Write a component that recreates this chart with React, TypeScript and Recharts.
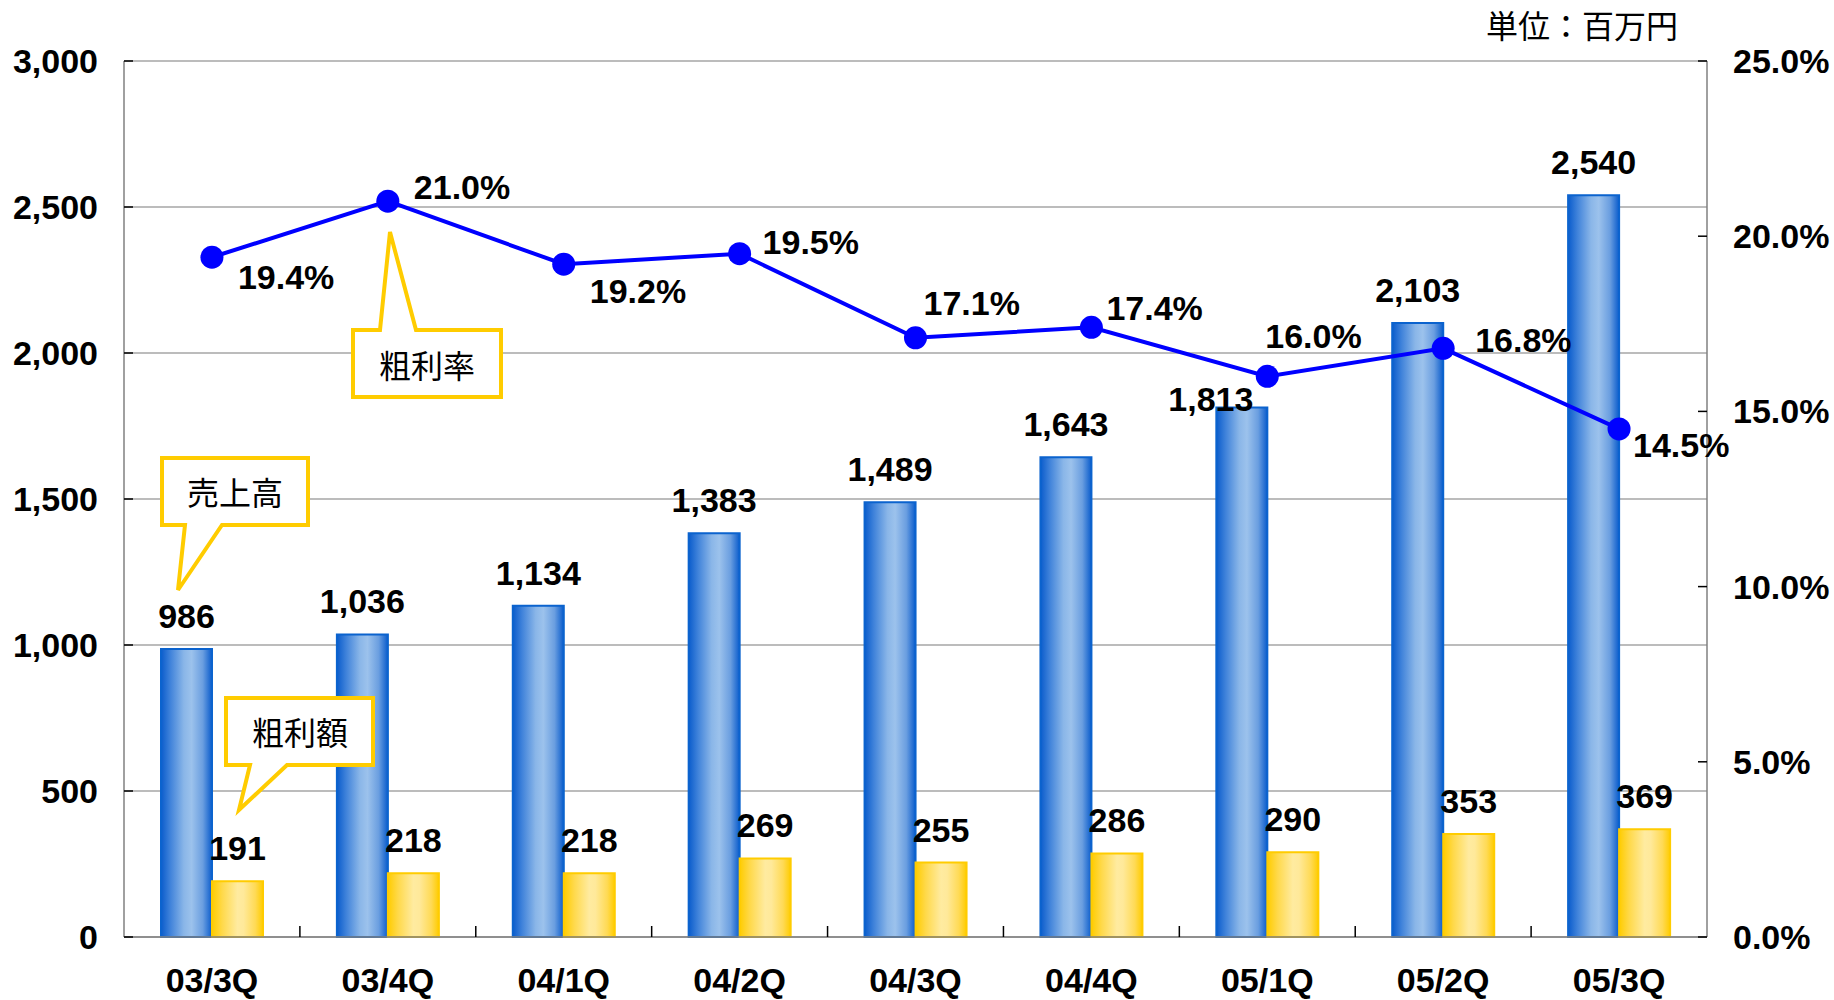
import React from 'react';
import {
  ComposedChart, Bar, Line, XAxis, YAxis, CartesianGrid, LabelList,
} from 'recharts';

const quarters = ['03/3Q', '03/4Q', '04/1Q', '04/2Q', '04/3Q', '04/4Q', '05/1Q', '05/2Q', '05/3Q'];
const sales = [986, 1036, 1134, 1383, 1489, 1643, 1813, 2103, 2540];
const grossProfit = [191, 218, 218, 269, 255, 286, 290, 353, 369];
const grossMargin = [19.4, 21.0, 19.2, 19.5, 17.1, 17.4, 16.0, 16.8, 14.5];

const leftTicks = [0, 500, 1000, 1500, 2000, 2500, 3000];
const rightTicks = [0, 5, 10, 15, 20, 25];

// label nudges (px) – not data
const rateLabelOffsets: Array<[number, number]> = [
  [26, 32], [26, -2], [26, 39], [23, 0], [8, -23], [15, -7], [-2, -28], [32, 4], [14, 28],
];
const salesLabelOffsets: Array<[number, number]> = [
  [0, 0], [0, 0], [0, 0], [0, 0], [0, 0], [0, 0], [-31, 24], [0, 0], [0, 0],
];

const W = 1834;
const H = 1000;
const LEFT_W = 124;
const RIGHT_W = 127;
const TOP = 61;
const BOTTOM = 63;
const HALF_BAND = (W - LEFT_W - RIGHT_W) / quarters.length / 2;

const NUM_FONT = "'Liberation Sans', Arial, sans-serif";
const JP_FONT = "'Noto Sans CJK JP', 'Noto Sans', sans-serif";

const data = quarters.map((q, i) => ({
  q,
  sales: sales[i],
  gross: grossProfit[i],
  rate: grossMargin[i],
}));

const LeftTick = (props: any) => {
  const { x, y, payload } = props;
  return (
    <g>
      <line x1={LEFT_W} x2={LEFT_W + 9} y1={y} y2={y} stroke="#000" strokeWidth={1.5} />
      <text x={x} y={y + 12} textAnchor="end" fontFamily={NUM_FONT} fontWeight="bold" fontSize={34} fill="#000">
        {Number(payload.value).toLocaleString('en-US')}
      </text>
    </g>
  );
};

const RightTick = (props: any) => {
  const { x, y, payload } = props;
  const axisX = W - RIGHT_W;
  return (
    <g>
      <line x1={axisX - 9} x2={axisX} y1={y} y2={y} stroke="#000" strokeWidth={1.5} />
      <text x={x} y={y + 12} textAnchor="start" fontFamily={NUM_FONT} fontWeight="bold" fontSize={34} fill="#000">
        {`${Number(payload.value).toFixed(1)}%`}
      </text>
    </g>
  );
};

const BottomTick = (props: any) => {
  const { x, y, payload, index } = props;
  return (
    <g>
      {index < quarters.length - 1 && (
        <line x1={x + HALF_BAND} x2={x + HALF_BAND} y1={y} y2={y - 11} stroke="#000" strokeWidth={1.5} />
      )}
      <text x={x} y={y + 55} textAnchor="middle" fontFamily={NUM_FONT} fontWeight="bold" fontSize={34} fill="#000">
        {payload.value}
      </text>
    </g>
  );
};

const barLabel = (offsets?: Array<[number, number]>) => (props: any) => {
  const { x, y, width, value, index } = props;
  const [dx, dy] = offsets ? offsets[index] : [0, 0];
  return (
    <text
      x={Number(x) + Number(width) / 2 + dx}
      y={Number(y) - 21 + dy}
      textAnchor="middle"
      fontFamily={NUM_FONT}
      fontWeight="bold"
      fontSize={34}
      fill="#000"
    >
      {Number(value).toLocaleString('en-US')}
    </text>
  );
};

const rateLabel = (props: any) => {
  const { x, y, value, index } = props;
  const [dx, dy] = rateLabelOffsets[index];
  return (
    <text x={Number(x) + dx} y={Number(y) + dy} textAnchor="start" fontFamily={NUM_FONT} fontWeight="bold" fontSize={34} fill="#000">
      {`${Number(value).toFixed(1)}%`}
    </text>
  );
};

function Callouts() {
  const boxStyle = { fill: '#fff', stroke: '#FFCC00', strokeWidth: 4, strokeLinejoin: 'miter' as const };
  const txt = (x: number, y: number, s: string) => (
    <text x={x} y={y} textAnchor="middle" dominantBaseline="central" fontFamily={JP_FONT} fontSize={32} fill="#000">
      {s}
    </text>
  );
  return (
    <svg width={W} height={H} style={{ position: 'absolute', left: 0, top: 0, pointerEvents: 'none' }}>
      <path d="M162,458 H308 V525 H222 L178,590 L185,525 H162 Z" {...boxStyle} />
      {txt(235, 491, '売上高')}
      <path d="M226,698 H373 V765 H287 L239,810 L250,765 H226 Z" {...boxStyle} />
      {txt(300, 731, '粗利額')}
      <path d="M353,330 H380 L390,232 L416,330 H501 V397 H353 Z" {...boxStyle} />
      {txt(427, 364, '粗利率')}
      <text x={1678} y={38} textAnchor="end" fontFamily={JP_FONT} fontSize={32} fill="#000">
        単位：百万円
      </text>
    </svg>
  );
}

export default function App() {
  return (
    <div style={{ position: 'absolute', left: 0, top: 0, width: W, height: H, background: '#fff' }}>
      <ComposedChart
        width={W}
        height={H}
        data={data}
        margin={{ top: TOP, right: 0, bottom: 0, left: 0 }}
        barGap={0}
      >
        <defs>
          <linearGradient id="gBlue" x1="0" y1="0" x2="1" y2="0">
            <stop offset="0%" stopColor="#0A5CCC" />
            <stop offset="18%" stopColor="#3F82DA" />
            <stop offset="45%" stopColor="#8AB6E8" />
            <stop offset="60%" stopColor="#9CC2EC" />
            <stop offset="82%" stopColor="#6A9EE0" />
            <stop offset="100%" stopColor="#0A5CCC" />
          </linearGradient>
          <linearGradient id="gYellow" x1="0" y1="0" x2="1" y2="0">
            <stop offset="0%" stopColor="#FFCC00" />
            <stop offset="20%" stopColor="#FFD94A" />
            <stop offset="50%" stopColor="#FFEBA0" />
            <stop offset="62%" stopColor="#FFE99A" />
            <stop offset="85%" stopColor="#FFDA55" />
            <stop offset="100%" stopColor="#FFCC00" />
          </linearGradient>
        </defs>
        <CartesianGrid yAxisId="left" vertical={false} stroke="#A6A6A6" strokeWidth={1.5} />
        <XAxis
          dataKey="q"
          height={BOTTOM}
          axisLine={{ stroke: '#808080', strokeWidth: 1.5 }}
          tickLine={false}
          tickSize={0}
          tickMargin={0}
          tick={<BottomTick />}
          interval={0}
        />
        <YAxis
          yAxisId="left"
          width={LEFT_W}
          domain={[0, 3000]}
          ticks={leftTicks}
          axisLine={{ stroke: '#808080', strokeWidth: 1.5 }}
          tickLine={false}
          tickSize={0}
          tickMargin={26}
          tick={<LeftTick />}
          interval={0}
        />
        <YAxis
          yAxisId="right"
          orientation="right"
          width={RIGHT_W}
          domain={[0, 25]}
          ticks={rightTicks}
          axisLine={{ stroke: '#808080', strokeWidth: 1.5 }}
          tickLine={false}
          tickSize={0}
          tickMargin={26}
          tick={<RightTick />}
          interval={0}
        />
        <Bar yAxisId="left" dataKey="sales" barSize={51} fill="url(#gBlue)" stroke="#0B63CE" strokeWidth={2} isAnimationActive={false}>
          <LabelList dataKey="sales" content={barLabel(salesLabelOffsets)} />
        </Bar>
        <Bar yAxisId="left" dataKey="gross" barSize={51} fill="url(#gYellow)" stroke="#FFCC00" strokeWidth={2} isAnimationActive={false}>
          <LabelList dataKey="gross" content={barLabel()} />
        </Bar>
        <Line
          yAxisId="right"
          dataKey="rate"
          type="linear"
          stroke="#0000FF"
          strokeWidth={4}
          dot={{ r: 11.5, fill: '#0000FF', stroke: '#0000FF', strokeWidth: 0 }}
          activeDot={false}
          isAnimationActive={false}
        >
          <LabelList dataKey="rate" content={rateLabel} />
        </Line>
      </ComposedChart>
      <Callouts />
    </div>
  );
}
